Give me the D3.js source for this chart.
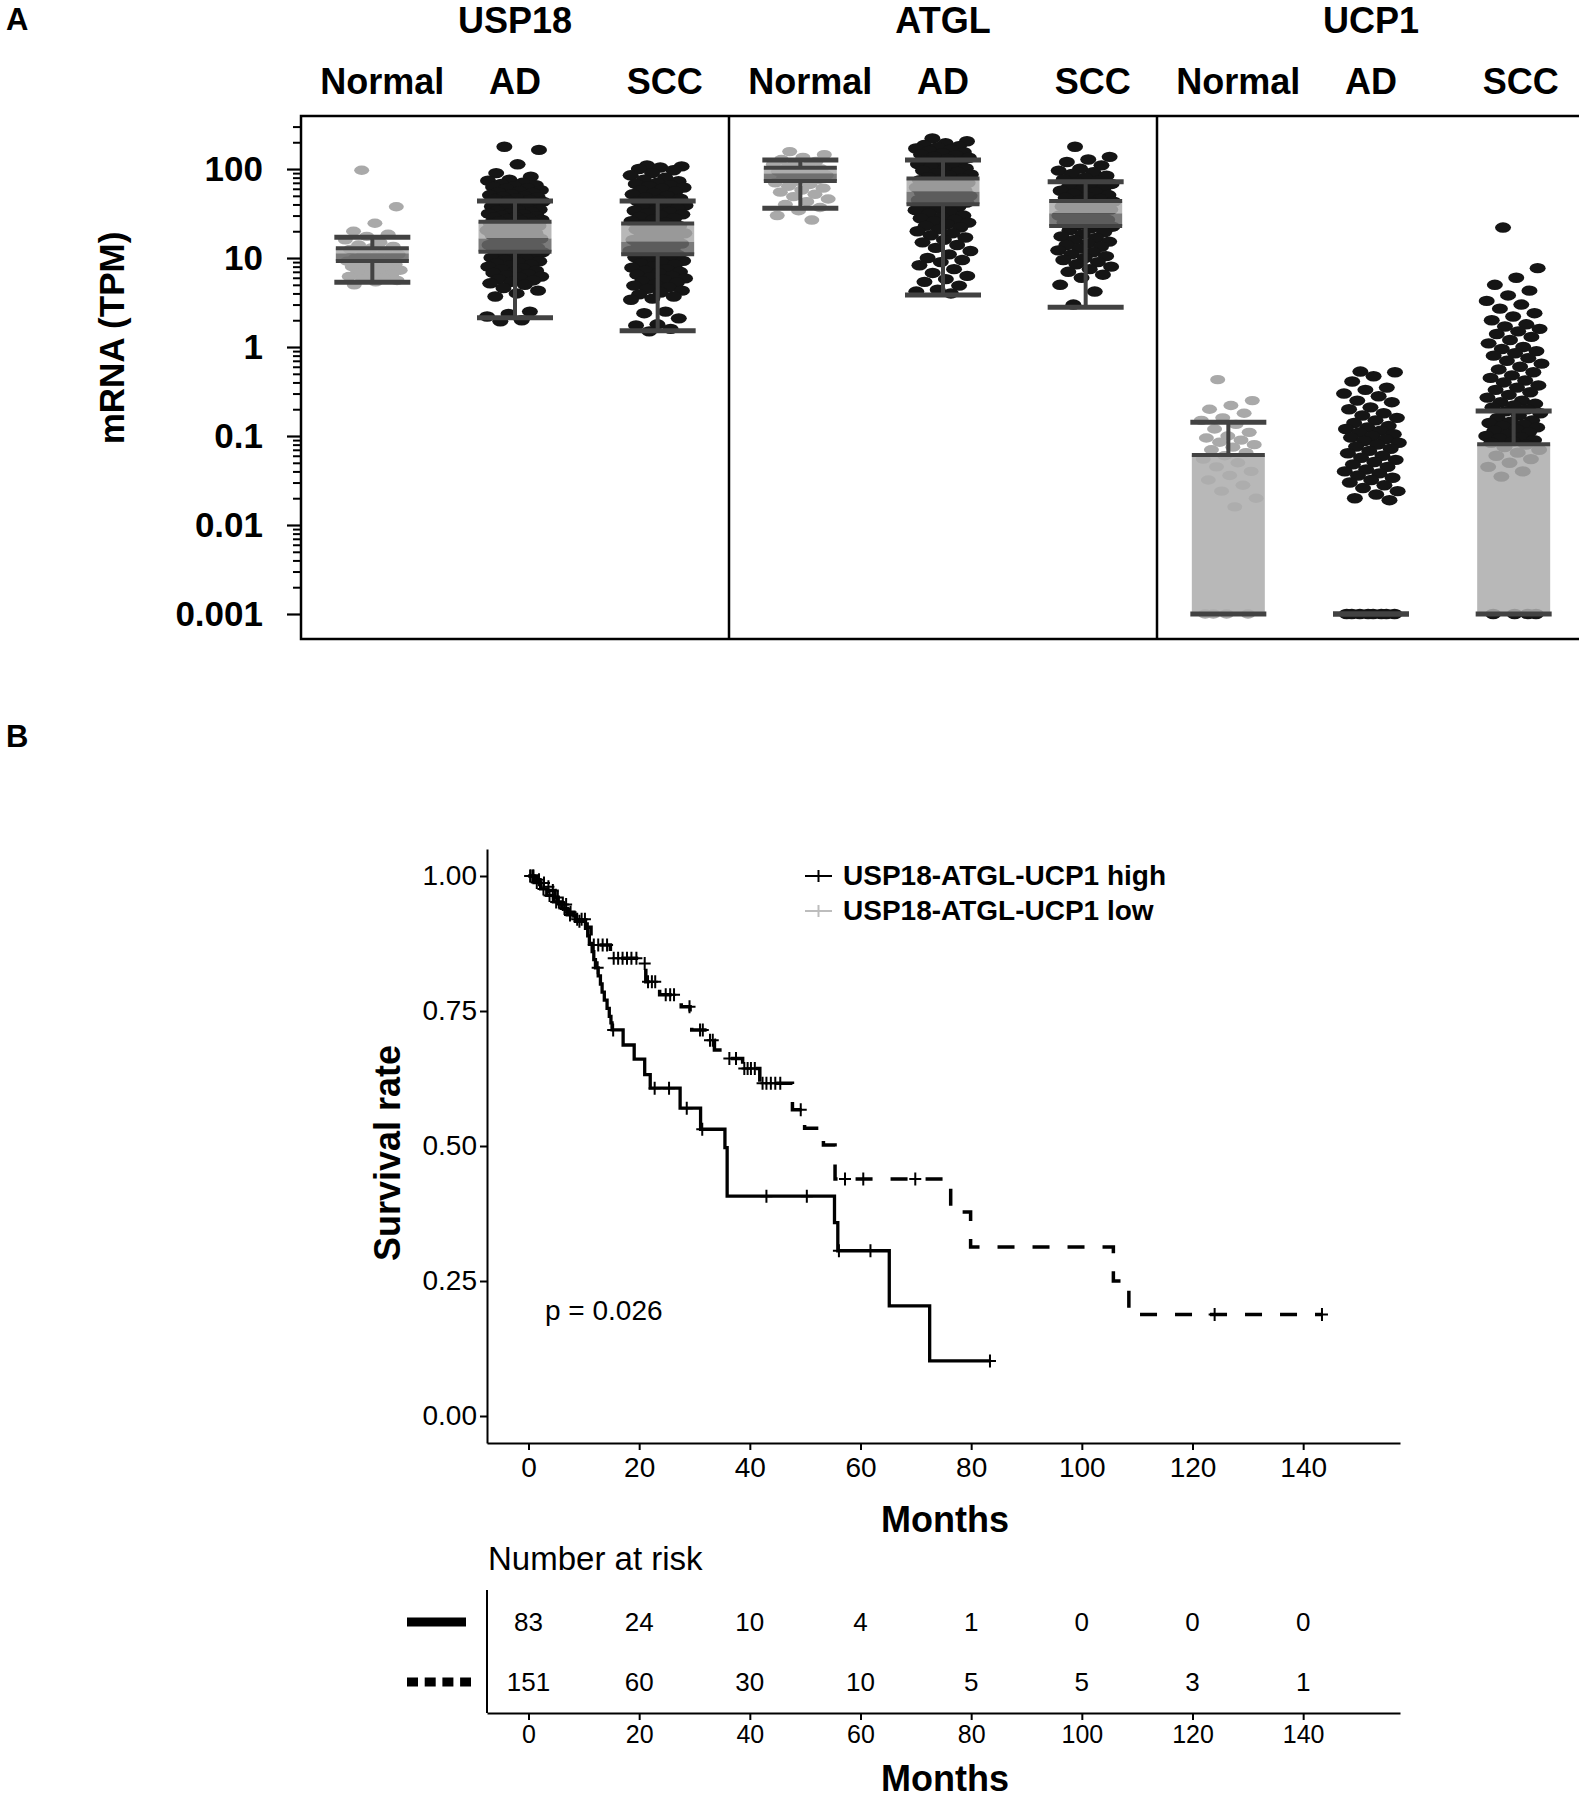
<!DOCTYPE html>
<html>
<head>
<meta charset="utf-8">
<script src="https://cdn.jsdelivr.net/npm/d3@7"></script>
<style>
  body { margin: 0; background: #fff; }
  svg { display: block; }
  text { font-family: "Liberation Sans", Arial, Helvetica, sans-serif; }
</style>
</head>
<body>
<svg id="chart" width="1579" height="1800"></svg>
<script>
// ================= DATA =================
// Panel A
const genes = ["USP18", "ATGL", "UCP1"];
const groups = ["Normal", "AD", "SCC"];
const yTickValues = [0.001, 0.01, 0.1, 1, 10, 100];
const yTickLabels = ["0.001", "0.01", "0.1", "1", "10", "100"];

// box stats per group: [lower whisker, Q1, median, Q3, upper whisker] (TPM)
const usp18Box = [[5.33, 9.25, 11.3, 12.9, 17.1], [2.13, 11.8, 16.6, 25.6, 43.7], [1.52, 11.0, 15.2, 24.5, 43.7]];
const atglBox  = [[36.2, 73.3, 89.3, 103.5, 126], [3.84, 40.1, 55.6, 78.5, 126], [2.79, 22.9, 31.8, 43.7, 72]];
const ucp1Box  = [[0.001, 0.001, 0.001, 0.0612, 0.1426], [0.001, 0.001, 0.001, 0.001, 0.001], [0.001, 0.001, 0.001, 0.0806, 0.191]];

// individual sample values (TPM)
const usp18Normal = [97, 37.7, 24.6, 20, 18.5, 17.5, 16, 15, 14, 13.5, 13, 12.5, 12, 11.5, 11, 10.5, 10, 9.8, 9.5, 9.2, 9.0, 8.8, 8.5, 8.2, 8.0, 7.8, 7.5, 7.3, 7.0, 6.8, 6.6, 6.4, 6.2, 6.0, 5.8, 5.6, 5.4, 5.0];
const usp18AD = [178, 164, 113, 90, 82, 76, 74, 70, 68, 66, 64, 63, 61, 60, 58, 56, 55, 54, 52, 51, 50, 49, 48, 47, 46, 45, 44, 43, 42, 41, 40, 39, 38, 37, 36, 35, 34.5, 34, 33, 32, 31.5, 31, 30, 29.5, 29, 28.5, 28, 27.5, 27, 26.5, 26,
  25.2, 25, 24.5, 24, 23.5, 23, 22.5, 22, 21.5, 21, 20.5, 20, 19.5, 19, 18.5, 18, 17.5, 17, 16.5, 16, 15.5, 15, 14.5, 14, 13.5, 13.2, 13, 12.8, 12.5, 12.2, 12,
  11.6, 11.3, 11, 10.7, 10.4, 10.1, 9.8, 9.5, 9.2, 9, 8.7, 8.4, 8.2, 8, 7.7, 7.5, 7.2, 7, 6.8, 6.6, 6.4, 6.2, 6, 5.8, 5.6, 5.4, 5.2, 5,
  4.6, 4.3, 4.0, 3.7, 2.5, 2.35, 2.2, 2.0, 1.95];
const usp18SCC = [110, 107, 104, 100, 97, 90, 85, 80, 76, 73, 70, 68, 66, 64, 62, 60, 58, 56, 54, 52, 50, 48, 46.5, 45, 43.5, 42, 40.5, 39, 38, 37, 36, 35, 34, 33, 32, 31, 30, 29, 28, 27, 26, 25,
  24, 23, 22, 21, 20.5, 20, 19, 18.5, 18, 17, 16.5, 16, 15.5, 15, 14.5, 14, 13.5, 13, 12.5, 12, 11.8, 11.3,
  10.8, 10.5, 10.2, 9.9, 9.6, 9.3, 9.0, 8.7, 8.4, 8.1, 7.8, 7.5, 7.2, 7.0, 6.8, 6.5, 6.3, 6.1, 5.9, 5.7, 5.5, 5.3, 5.1, 4.9, 4.7, 4.5, 4.3, 4.1, 3.9, 3.7, 3.5, 3.4,
  2.5, 2.4, 2.1, 1.8, 1.75, 1.6, 1.5];
const atglNormal = [157, 145, 135, 128, 122, 118, 113, 108, 104, 100, 97, 94, 91, 88, 85, 82, 79, 76, 73, 70, 67, 64, 61, 58, 55, 52, 49, 46, 43, 40, 37, 34, 30, 26.7];
const atglAD = [221, 205, 195, 186, 180, 176, 170, 165, 160, 155, 150, 146, 142, 138, 134, 130, 126, 122, 118, 114, 110, 106, 102, 99, 96, 93, 90, 87, 84, 81, 79,
  77, 75, 74, 72, 70, 68, 66, 65, 63, 62, 60, 58, 57, 56, 54, 53, 52, 50, 49, 48, 47, 46, 45, 44, 43, 42, 41,
  39, 37.5, 36, 34.5, 33, 31.5, 30, 29, 28, 27, 26, 25, 24, 23, 22, 21, 20, 19, 18, 17, 16, 15, 14, 13, 12, 11, 10, 9.5, 9, 8.3, 7.5, 6.8, 6.3, 5.8, 5.4, 4.9, 4.4, 4.2, 4.0];
const atglSCC = [178, 137, 128, 120, 110, 101, 96, 92, 88, 84, 80, 77, 74, 71, 68, 65, 63, 61, 59, 57, 55, 53, 51, 49, 47.5, 46, 44.5,
  43, 42, 41, 40, 39, 38, 37, 36, 35, 34, 33, 32, 31, 30, 29, 28, 27, 26, 25, 24, 23.5,
  22.5, 21.5, 20.5, 19.5, 18.5, 17.5, 16.8, 16, 15.3, 14.6, 14, 13.4, 12.8, 12.2, 11.6, 11, 10.5, 10, 9.5, 9, 8.5, 8, 7.5, 7, 6.5, 6.0, 5.0, 4.2, 3.0];
const ucp1Normal = [0.43, 0.25, 0.22, 0.2, 0.18, 0.16, 0.15, 0.135, 0.12, 0.11, 0.1, 0.095, 0.09, 0.085, 0.08, 0.075, 0.07, 0.065, 0.06, 0.055, 0.05, 0.045, 0.04, 0.036, 0.032, 0.028, 0.024, 0.02, 0.016, 0.001, 0.001, 0.001, 0.001];
const ucp1AD = [0.53, 0.52, 0.47, 0.41, 0.35, 0.33, 0.3, 0.28, 0.25, 0.24, 0.21, 0.2, 0.18, 0.17, 0.16, 0.15, 0.14, 0.13, 0.125, 0.12, 0.115, 0.11, 0.105, 0.1, 0.096, 0.092, 0.088, 0.084, 0.08, 0.076, 0.072, 0.068, 0.064, 0.06, 0.057, 0.054, 0.051, 0.048, 0.045, 0.042, 0.04, 0.038, 0.036, 0.034, 0.032, 0.03, 0.028, 0.026, 0.024, 0.022, 0.02, 0.019,
  0.001, 0.001, 0.001, 0.001, 0.001, 0.001, 0.001, 0.001];
const ucp1SCC = [22, 7.7, 6.0, 5.0, 4.3, 3.8, 3.3, 3.0, 2.7, 2.4, 2.2, 2.0, 1.8, 1.7, 1.6, 1.5, 1.4, 1.3, 1.2, 1.1, 1.0, 0.95, 0.9, 0.85, 0.8, 0.75, 0.7, 0.65, 0.6, 0.56, 0.52, 0.48, 0.45, 0.42, 0.4, 0.37, 0.35, 0.33, 0.31, 0.29, 0.27, 0.25, 0.24, 0.23, 0.22, 0.21, 0.2, 0.19, 0.18, 0.17, 0.16, 0.15, 0.145, 0.14, 0.135, 0.13, 0.125, 0.12, 0.115, 0.11, 0.105, 0.1, 0.097, 0.094, 0.09, 0.087, 0.084, 0.08,
  0.075, 0.07, 0.065, 0.06, 0.055, 0.05, 0.045, 0.04, 0.035, 0.001, 0.001, 0.001, 0.001];

// Panel B : Kaplan-Meier
const kmSeries = ["USP18-ATGL-UCP1 high", "USP18-ATGL-UCP1 low"];
const highTimes = [0, 1.0, 2.2, 3.3, 4.5, 6.0, 7.0, 8.5, 10.3, 10.7, 11.0, 11.5, 11.8, 12.1, 12.6, 13.0, 13.3, 13.7, 14.2, 14.6, 14.9, 15.1, 17.1, 19.1, 21.0, 22.0, 27.4, 31.1, 35.5, 35.9, 55.3, 55.9, 65.2, 72.5];
const highSurv  = [1, 0.988, 0.976, 0.964, 0.952, 0.940, 0.928, 0.916, 0.903, 0.889, 0.875, 0.860, 0.845, 0.830, 0.815, 0.800, 0.785, 0.770, 0.755, 0.740, 0.728, 0.715, 0.687, 0.661, 0.632, 0.607, 0.570, 0.531, 0.497, 0.407, 0.358, 0.306, 0.204, 0.102];
const highEnd = 83.4;
const highCensor = [0.3, 0.8, 1.5, 2.7, 3.8, 5.0, 5.5, 6.5, 7.5, 9.2, 12.5, 15.3, 22.8, 25.4, 28.6, 31.4, 43.0, 50.3, 56.1, 61.8, 83.4];
const lowTimes = [0, 1.5, 2.5, 3.2, 4.0, 4.8, 5.8, 7.0, 8.2, 10.6, 11.3, 11.5, 14.8, 20.1, 21.2, 23.7, 27.6, 29.2, 29.5, 32.3, 33.6, 35.5, 38.7, 41.8, 47.7, 49.9, 53.3, 55.4, 76.3, 79.9, 105.7, 108.5];
const lowSurv  = [1, 0.993, 0.987, 0.980, 0.973, 0.960, 0.947, 0.933, 0.920, 0.905, 0.888, 0.872, 0.8475, 0.838, 0.804, 0.780, 0.758, 0.746, 0.715, 0.696, 0.678, 0.662, 0.6435, 0.616, 0.567, 0.533, 0.502, 0.439, 0.378, 0.313, 0.250, 0.188];
const lowEnd = 143.4;
const lowCensor = [0.4, 0.9, 1.9, 2.8, 3.6, 4.4, 5.3, 6.2, 6.8, 7.6, 8.8, 9.6, 10.2, 11.8, 12.6, 13.4, 14.2, 15.4, 16.2, 17.0, 17.8, 18.6, 19.5, 21.0, 21.6, 22.3, 22.9, 24.8, 25.6, 26.3, 29.1, 31.0, 31.5, 32.8, 33.3, 36.3, 37.5, 39.0, 39.6, 40.2, 40.9, 42.3, 43.0, 43.8, 44.6, 45.5, 49.2, 57.2, 60.5, 69.9, 124.0, 143.4];
const kmTicks = [0, 20, 40, 60, 80, 100, 120, 140];
const survTicks = [0, 0.25, 0.5, 0.75, 1.0];
const riskHigh = [83, 24, 10, 4, 1, 0, 0, 0];
const riskLow  = [151, 60, 30, 10, 5, 5, 3, 1];
const pValueText = "p = 0.026";

// ================= DRAW =================
const svg = d3.select("#chart");
const BOLD = 700;

// ---------- Panel A ----------
const boxStats = { USP18: usp18Box, ATGL: atglBox, UCP1: ucp1Box };
const pointSets = { USP18: [usp18Normal, usp18AD, usp18SCC], ATGL: [atglNormal, atglAD, atglSCC], UCP1: [ucp1Normal, ucp1AD, ucp1SCC] };

const geneX = d3.scaleBand().domain(genes).range([301, 1585]);
const groupX = d3.scaleBand().domain(groups).range([0, geneX.bandwidth()]);
const yA = d3.scaleLog().domain([Math.pow(10, -3.281), Math.pow(10, 2.596)]).range([639, 116]);

svg.append("text").attr("x", 6).attr("y", 30).attr("font-size", 31).attr("font-weight", BOLD).text("A");

// gene titles and group labels
const labelNudge = { Normal: 10, AD: 0, SCC: 7 };
genes.forEach(g => {
  svg.append("text").attr("x", geneX(g) + geneX.bandwidth() / 2).attr("y", 33)
    .attr("text-anchor", "middle").attr("font-size", 36).attr("font-weight", BOLD).text(g);
  groups.forEach(grp => {
    svg.append("text").attr("x", geneX(g) + groupX(grp) + groupX.bandwidth() / 2 + labelNudge[grp]).attr("y", 94)
      .attr("text-anchor", "middle").attr("font-size", 36).attr("font-weight", BOLD).text(grp);
  });
});

const gPts = svg.append("g");
function jit(i) { return (((i * 0.6180339887 + 0.31) % 1) - 0.5) * 2; }

const boxW = 73, capW = 76, lineCol = "#424242";
genes.forEach(g => {
  groups.forEach((grp, k) => {
    const cx = geneX(g) + groupX(grp) + groupX.bandwidth() / 2;
    const vals = pointSets[g][k].slice().sort((a, b) => b - a);
    const isNormal = grp === "Normal";
    const gg = gPts.append("g");
    gg.selectAll("ellipse").data(vals).join("ellipse")
      .attr("cx", (d, i) => cx + jit(i) * 28)
      .attr("cy", d => yA(d))
      .attr("rx", isNormal ? 7.5 : 8)
      .attr("ry", isNormal ? 4.7 : 5.2)
      .attr("fill", isNormal ? "#a9a9a9" : "#151515");
    const [lo, q1, med, q3, hi] = boxStats[g][k];
    [[hi, q3], [q1, lo]].forEach(([a, b]) => gg.append("line").attr("x1", cx).attr("x2", cx)
      .attr("y1", yA(a)).attr("y2", yA(b)).attr("stroke", lineCol).attr("stroke-width", 4));
    gg.append("rect").attr("x", cx - boxW / 2).attr("width", boxW)
      .attr("y", yA(q3)).attr("height", yA(med) - yA(q3))
      .attr("fill", "#adadad").attr("fill-opacity", 0.87);
    gg.append("rect").attr("x", cx - boxW / 2).attr("width", boxW)
      .attr("y", yA(med)).attr("height", yA(q1) - yA(med))
      .attr("fill", "#676767").attr("fill-opacity", 0.87);
    [q3, q1].forEach(v => gg.append("line").attr("x1", cx - boxW / 2).attr("x2", cx + boxW / 2)
      .attr("y1", yA(v)).attr("y2", yA(v)).attr("stroke", lineCol).attr("stroke-width", 4));
    [lo, hi].forEach(v => gg.append("line").attr("x1", cx - capW / 2).attr("x2", cx + capW / 2)
      .attr("y1", yA(v)).attr("y2", yA(v)).attr("stroke", lineCol).attr("stroke-width", 5));
  });
});

// frame and dividers
svg.append("rect").attr("x", 301).attr("y", 116).attr("width", 1284).attr("height", 523)
  .attr("fill", "none").attr("stroke", "#000").attr("stroke-width", 2.5);
genes.slice(1).forEach(g => svg.append("line").attr("x1", geneX(g)).attr("x2", geneX(g))
  .attr("y1", 116).attr("y2", 639).attr("stroke", "#000").attr("stroke-width", 2.5));

// y axis (log)
const minor = [];
for (let e = -3; e <= 2; e++) for (let m = 2; m <= 9; m++) {
  const v = m * Math.pow(10, e);
  if (v < yA.domain()[1]) minor.push(v);
}
const axMinor = svg.append("g").attr("transform", "translate(301,0)")
  .call(d3.axisLeft(yA).tickValues(minor).tickSize(8).tickFormat(""));
axMinor.select(".domain").remove();
axMinor.selectAll("line").attr("stroke", "#000").attr("stroke-width", 2);
const axMajor = svg.append("g").attr("transform", "translate(301,0)")
  .call(d3.axisLeft(yA).tickValues(yTickValues).tickSize(14).tickPadding(24)
    .tickFormat((d, i) => yTickLabels[i]));
axMajor.select(".domain").remove();
axMajor.selectAll("line").attr("stroke", "#000").attr("stroke-width", 2.2);
axMajor.selectAll("text").attr("font-size", 35).attr("font-weight", BOLD).attr("fill", "#000")
  .attr("font-family", "'Liberation Sans', Arial, sans-serif");

svg.append("text").attr("transform", "translate(124,338) rotate(-90)")
  .attr("text-anchor", "middle").attr("font-size", 35).attr("font-weight", BOLD).text("mRNA (TPM)");

// ---------- Panel B ----------
svg.append("text").attr("x", 6).attr("y", 747).attr("font-size", 31).attr("font-weight", BOLD).text("B");

const kmX = d3.scaleLinear().domain([-7.5, 157.5]).range([487, 1400]);
const kmY = d3.scaleLinear().domain([-0.05, 1.05]).range([1443, 849]);

function styleAxis(ax, fs) {
  ax.selectAll("path,line").attr("stroke", "#000").attr("stroke-width", 2);
  ax.selectAll("text").attr("font-size", fs).attr("fill", "#000")
    .attr("font-family", "'Liberation Sans', Arial, sans-serif");
}
const axY = svg.append("g").attr("transform", "translate(487,0)")
  .call(d3.axisLeft(kmY).tickValues(survTicks).tickFormat(d3.format(".2f")).tickSize(7).tickSizeOuter(0).tickPadding(3));
styleAxis(axY, 28);
const axX = svg.append("g").attr("transform", "translate(0,1443)")
  .call(d3.axisBottom(kmX).tickValues(kmTicks).tickSize(7).tickSizeOuter(0).tickPadding(7));
styleAxis(axX, 28);

const stepLine = d3.line().x(d => kmX(d[0])).y(d => kmY(d[1])).curve(d3.curveStepAfter);
function stepData(times, surv, end) {
  const pts = times.map((t, i) => [t, surv[i]]);
  pts.push([end, surv[surv.length - 1]]);
  return pts;
}
function survAt(times, surv, t) {
  let s = surv[0];
  for (let i = 0; i < times.length; i++) if (times[i] <= t) s = surv[i];
  return s;
}
const curves = [
  { times: highTimes, surv: highSurv, end: highEnd, cens: highCensor, dash: null, w: 3.3 },
  { times: lowTimes, surv: lowSurv, end: lowEnd, cens: lowCensor, dash: "17,18", w: 3.5 }
];
curves.forEach(c => {
  svg.append("path").attr("d", stepLine(stepData(c.times, c.surv, c.end)))
    .attr("fill", "none").attr("stroke", "#000").attr("stroke-width", c.w)
    .attr("stroke-dasharray", c.dash);
  svg.append("g").selectAll("path").data(c.cens).join("path")
    .attr("d", t => {
      const x = kmX(t), y = kmY(survAt(c.times, c.surv, t));
      return `M${x - 6},${y}H${x + 6}M${x},${y - 6.5}V${y + 6.5}`;
    })
    .attr("stroke", "#000").attr("stroke-width", 2).attr("fill", "none");
});

// legend
const legendColors = ["#000", "#bdbdbd"];
kmSeries.forEach((name, i) => {
  const ly = 876 + i * 35;
  svg.append("path").attr("d", `M805,${ly}H832M818.5,${ly - 6}V${ly + 6}`)
    .attr("stroke", legendColors[i]).attr("stroke-width", 2).attr("fill", "none");
  svg.append("text").attr("x", 843).attr("y", ly + 9).attr("font-size", 28).attr("font-weight", BOLD).text(name);
});

svg.append("text").attr("x", 545).attr("y", 1320).attr("font-size", 28).text(pValueText);

svg.append("text").attr("transform", "translate(400,1153) rotate(-90)")
  .attr("text-anchor", "middle").attr("font-size", 36).attr("font-weight", BOLD).text("Survival rate");
svg.append("text").attr("x", 945).attr("y", 1532).attr("text-anchor", "middle")
  .attr("font-size", 36).attr("font-weight", BOLD).text("Months");

// ---------- Risk table ----------
svg.append("text").attr("x", 488).attr("y", 1570).attr("font-size", 33).text("Number at risk");
const rowY = d3.scaleBand().domain(["high", "low"]).range([1592, 1712]);
svg.append("line").attr("x1", 487).attr("x2", 487).attr("y1", 1590).attr("y2", 1713)
  .attr("stroke", "#000").attr("stroke-width", 2);
const axR = svg.append("g").attr("transform", "translate(0,1713)")
  .call(d3.axisBottom(kmX).tickValues(kmTicks).tickSize(7).tickSizeOuter(0).tickPadding(5));
styleAxis(axR, 25);

[["high", riskHigh], ["low", riskLow]].forEach(([key, arr]) => {
  const cy = rowY(key) + rowY.bandwidth() / 2;
  svg.append("g").selectAll("text").data(arr).join("text")
    .attr("x", (d, i) => kmX(kmTicks[i])).attr("y", cy).attr("dy", "0.36em")
    .attr("text-anchor", "middle").attr("font-size", 26).text(d => d);
  svg.append("line").attr("x1", 407).attr("x2", key === "high" ? 466 : 471).attr("y1", cy).attr("y2", cy)
    .attr("stroke", "#000").attr("stroke-width", 9)
    .attr("stroke-dasharray", key === "high" ? null : "11,6.7");
});
svg.append("text").attr("x", 945).attr("y", 1791).attr("text-anchor", "middle")
  .attr("font-size", 36).attr("font-weight", BOLD).text("Months");
</script>
</body>
</html>
